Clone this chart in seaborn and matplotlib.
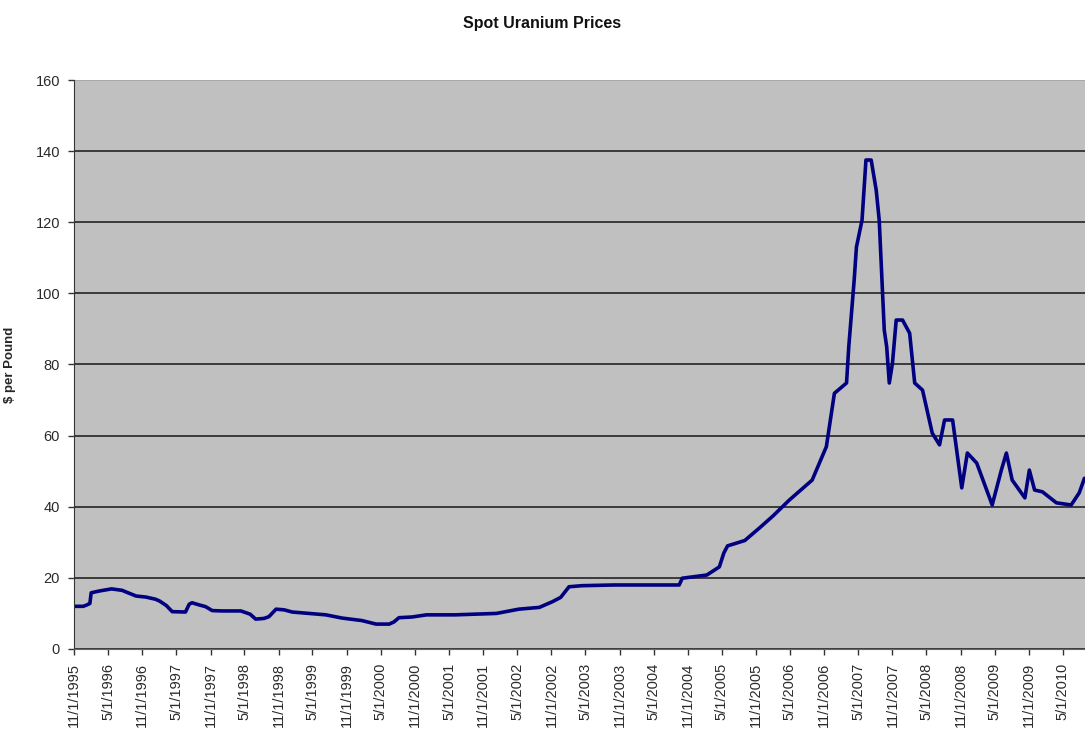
import pandas as pd
import seaborn as sns
from matplotlib import pyplot as plt

#===== DATA =====================================
dates = [
    "1995-11-01", "1995-12-20", "1996-01-05", "1996-01-25", "1996-02-01", "1996-03-15",
    "1996-05-20", "1996-07-15", "1996-09-28", "1996-11-20", "1997-01-10", "1997-02-01",
    "1997-03-10", "1997-04-10", "1997-06-20", "1997-07-10", "1997-07-25", "1997-09-01",
    "1997-10-06", "1997-11-10", "1998-01-01", "1998-04-12", "1998-06-01", "1998-07-01",
    "1998-08-15", "1998-09-10", "1998-10-18", "1998-12-01", "1999-01-12", "1999-07-12",
    "1999-10-06", "2000-01-20", "2000-04-06", "2000-06-15", "2000-07-10", "2000-08-06",
    "2000-10-15", "2001-01-01", "2001-06-01", "2002-01-10", "2002-05-10", "2002-08-28",
    "2002-11-06", "2002-12-20", "2003-02-03", "2003-04-12", "2003-10-01", "2004-04-01",
    "2004-09-15", "2004-10-01", "2005-02-10", "2005-04-18", "2005-05-12", "2005-06-01",
    "2005-09-01", "2005-11-18", "2006-02-01", "2006-04-28", "2006-08-28", "2006-11-12",
    "2006-12-25", "2007-02-28", "2007-03-12", "2007-04-10", "2007-04-22", "2007-05-22",
    "2007-06-12", "2007-07-10", "2007-08-06", "2007-08-22", "2007-09-18", "2007-10-01",
    "2007-10-15", "2007-11-01", "2007-11-21", "2007-12-25", "2008-02-01", "2008-02-28",
    "2008-04-10", "2008-06-01", "2008-07-10", "2008-08-06", "2008-09-18", "2008-11-06",
    "2008-12-06", "2009-01-25", "2009-04-18", "2009-06-06", "2009-07-03", "2009-08-03",
    "2009-10-10", "2009-11-03", "2009-12-01", "2010-01-12", "2010-03-28", "2010-06-15",
    "2010-07-28", "2010-08-25",
]
prices = [
    12.0, 12.0, 12.3, 12.8, 15.8, 16.3,
    16.9, 16.5, 14.9, 14.6, 14.0, 13.5,
    12.2, 10.5, 10.4, 12.6, 13.0, 12.4,
    11.9, 10.8, 10.7, 10.7, 9.8, 8.4,
    8.6, 9.1, 11.2, 11.0, 10.4, 9.6,
    8.7, 8.0, 7.0, 7.0, 7.6, 8.8,
    9.0, 9.6, 9.6, 10.0, 11.2, 11.7,
    13.3, 14.5, 17.5, 17.8, 18.0, 18.0,
    18.0, 19.9, 20.8, 23.1, 27.0, 29.0,
    30.5, 34.0, 37.5, 41.9, 47.5, 56.9,
    71.9, 74.8, 85.0, 103.8, 113.0, 120.6,
    137.5, 137.5, 129.0, 120.6, 89.7, 85.0,
    74.8, 80.4, 92.5, 92.5, 88.8, 74.8,
    72.8, 60.7, 57.4, 64.4, 64.4, 45.3,
    55.1, 52.3, 40.5, 50.3, 55.1, 47.5,
    42.5, 50.3, 44.7, 44.2, 41.1, 40.5,
    43.9, 48.0,
]
yticks = [0, 20, 40, 60, 80, 100, 120, 140, 160]

df = pd.DataFrame({"Date": pd.to_datetime(dates), "Price": prices})

#===== PLOT =====================================
sns.set_style("white", {"axes.facecolor": "#c0c0c0"})
plt.rcParams["font.family"] = ["Liberation Sans", "DejaVu Sans"]

fig = plt.figure(figsize=(10.85, 7.32), dpi=100)
ax = fig.add_axes([0.0682, 0.1134, 0.9318, 0.7773])

sns.lineplot(data=df, x="Date", y="Price", color="#000080", linewidth=2.6, ax=ax)

ax.set_ylim(0, 160)
ax.set_yticks(yticks)
ax.yaxis.grid(True, color="#3a3a3a", linewidth=1.4)
ax.set_axisbelow(True)
# top edge of the plot area is lighter than the inner gridlines
ax.get_ygridlines()[-1].set_color("#a8a8a8")

ax.set_xlim(pd.Timestamp("1995-11-01"), pd.Timestamp("2010-08-28"))
ticks = pd.date_range("1995-11-01", "2010-05-01", freq="6MS")
ax.set_xticks(ticks)
ax.set_xticklabels([f"{d.month}/{d.day}/{d.year}" for d in ticks], rotation=90)

ax.tick_params(axis="both", direction="out", length=4, width=1, color="#333333",
               labelsize=10.5, labelcolor="#2a2a2a", left=True, bottom=True, pad=6)

for side in ["top", "right"]:
    ax.spines[side].set_visible(False)
ax.spines["left"].set_color("#333333")
ax.spines["bottom"].set_color("#666666")

ax.set_xlabel("")
ax.set_ylabel("$ per Pound", fontsize=9.5, fontweight="bold", labelpad=14)
fig.text(0.5, 0.968, "Spot Uranium Prices", ha="center", va="center",
         fontsize=11.5, fontweight="bold", color="#111111")

plt.savefig("out.png", dpi=100)
